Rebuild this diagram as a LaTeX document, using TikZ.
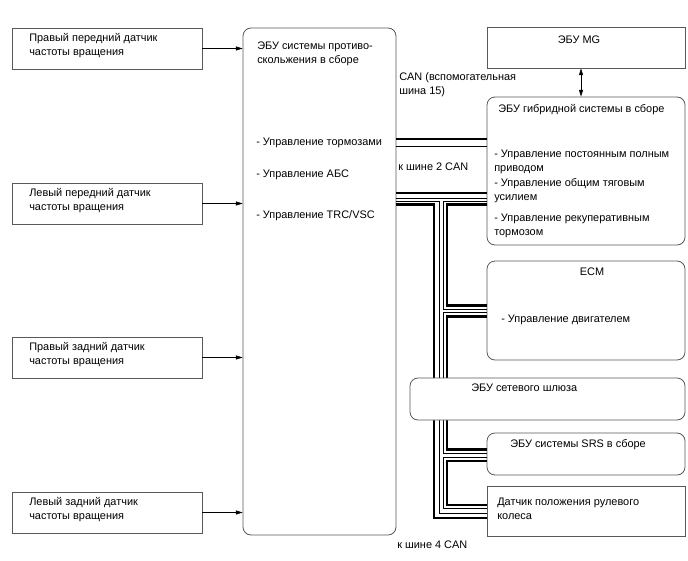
\documentclass[tikz,border=0pt]{standalone}
\usepackage{fontspec}
\setmainfont{Liberation Sans}
\usetikzlibrary{arrows.meta, fit}
\newcommand\diagfont{\fontsize{8.2}{10.5}\selectfont}

\begin{document}
\begin{tikzpicture}[x=0.75pt, y=-0.75pt, >={Triangle[length=5pt,width=3pt]},
    box/.style={draw=black!65, line width=0.6pt, inner sep=0pt, fill=white},
    rbox/.style={box, rounded corners=6pt},
    txt/.style={anchor=west, inner sep=0pt, align=left, font=\diagfont},
    thk/.style={line width=2.2pt},
    thn/.style={line width=0.75pt}]
  \useasboundingbox (0,0) rectangle (688,560);

  % датчики частоты вращения
  \foreach \i/\t/\lbl in {1/28/{Правый передний датчик\\частоты вращения},
                          2/183/{Левый передний датчик\\частоты вращения},
                          3/337/{Правый задний датчик\\частоты вращения},
                          4/492/{Левый задний датчик\\частоты вращения}} {
    \node[box, fit={(12,\t) (202,\t+41)}] (sens\i) {};
    \node[txt] (sens\i txt) at (29,\t+17.5) {\lbl};
  }

  % ЭБУ системы противоскольжения
  \node[rbox, fit={(243,28) (396,535)}] (abs) {};
  \node[txt] (abstitle) at (257,53.5) {ЭБУ системы противо-\\скольжения в сборе};
  \node[txt] (abs1) at (256,143) {- Управление тормозами};
  \node[txt] (abs2) at (256,175) {- Управление АБС};
  \node[txt] (abs3) at (256,216) {- Управление TRC/VSC};

  \foreach \i in {1,2,3,4}
    \draw[->, thin] (sens\i) -- (sens\i -| abs.west);

  % ЭБУ MG и гибридная система
  \node[box, fit={(487,27) (685,68)}] (mg) {};
  \node[font=\diagfont, inner sep=0pt] (mgtxt) at (579,40) {ЭБУ MG};
  \node[rbox, fit={(487,97) (685,245)}] (hyb) {};
  \node[font=\diagfont, inner sep=0pt, anchor=west] (hybtitle) at (498,110) {ЭБУ гибридной системы в сборе};
  \node[txt] (hyb1) at (494,162) {- Управление постоянным полным\\приводом};
  \node[txt] (hyb2) at (494,191) {- Управление общим тяговым\\усилием};
  \node[txt] (hyb3) at (494,226) {- Управление рекуперативным\\тормозом};
  \draw[<->, thin] (mg.south -| 581,0) -- (hyb.north -| 581,0);

  \node[txt] (canlbl) at (399,85) {CAN (вспомогательная\\шина 15)};
  \node[txt] (bus2lbl) at (398,167) {к шине 2 CAN};
  \node[txt] (bus4lbl) at (397,545) {к шине 4 CAN};

  % ECM, SRS, датчик руля
  \node[rbox, fit={(487,261) (685,360)}] (ecm) {};
  \node[font=\diagfont, inner sep=0pt] (ecmtxt) at (592,272) {ECM};
  \node[txt] (ecm1) at (501,320) {- Управление двигателем};
  \node[rbox, fit={(487,433) (685,475)}] (srs) {};
  \node[txt] (srstxt) at (510,445) {ЭБУ системы SRS в сборе};
  \node[box, fit={(487,486) (685,536)}] (steer) {};
  \node[txt] (steertxt) at (497,508.5) {Датчик положения рулевого\\колеса};

  % шины CAN
  \draw[thk] (abs.east |- 0,139) -- (hyb.west |- 0,139);
  \draw[thn] (abs.east |- 0,146) -- (hyb.west |- 0,146);
  \draw[thk] (abs.east |- 0,193) -- (hyb.west |- 0,193);
  \draw[thn] (abs.east |- 0,198) -- (hyb.west |- 0,198);
  % магистраль вниз
  \draw[thn] (abs.east |- 0,201) -| (439,513) -- (steer.west |- 0,513);
  \draw[thk] (abs.east |- 0,204.5) -| (434,518) -- (steer.west |- 0,518);
  % цепочка ЭБУ
  \draw[thn] (hyb.west |- 0,201) -| (443,309) -- (ecm.west |- 0,309);
  \draw[thk] (hyb.west |- 0,204.5) -| (447,305.5) -- (ecm.west |- 0,305.5);
  \draw[thn] (ecm.west |- 0,312.5) -| (443,453) -- (srs.west |- 0,453);
  \draw[thk] (ecm.west |- 0,316.5) -| (447,449.5) -- (srs.west |- 0,449.5);
  \draw[thn] (srs.west |- 0,457) -| (443,508.5) -- (steer.west |- 0,508.5);
  \draw[thk] (srs.west |- 0,461) -| (447,505) -- (steer.west |- 0,505);

  % ЭБУ сетевого шлюза поверх шины
  \node[rbox, fit={(410,378) (685,420)}] (gw) {};
  \node[txt] (gwtxt) at (471,388) {ЭБУ сетевого шлюза};
\end{tikzpicture}
\end{document}
